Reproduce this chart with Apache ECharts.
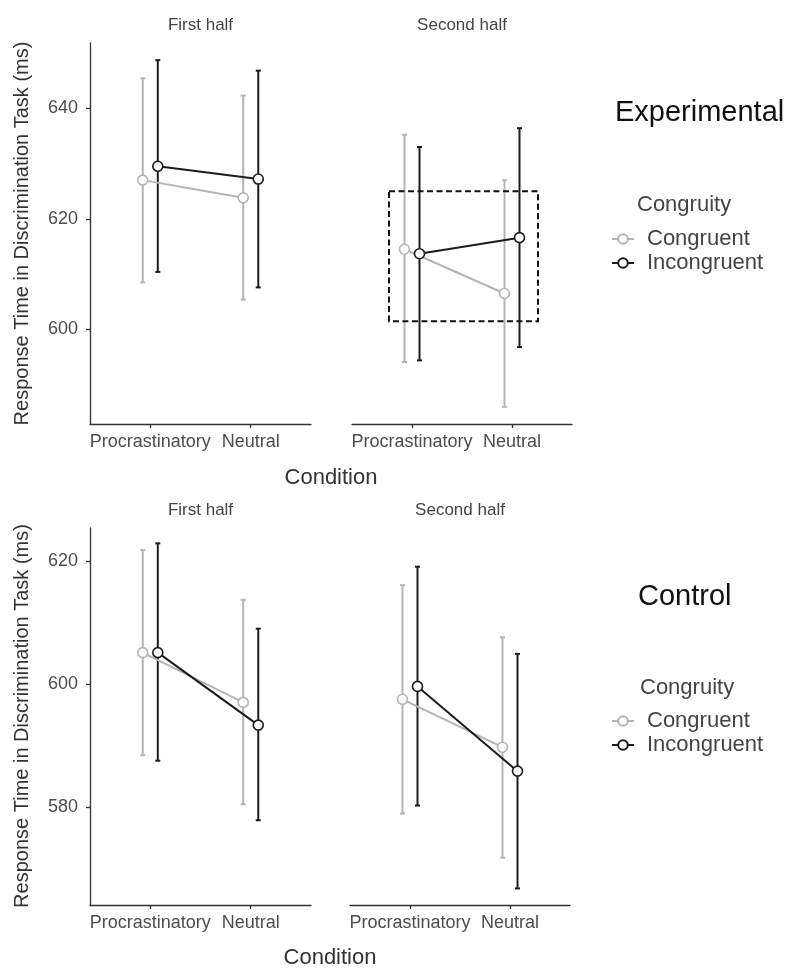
<!DOCTYPE html>
<html>
<head>
<meta charset="utf-8">
<script src="https://cdn.jsdelivr.net/npm/echarts@6/dist/echarts.min.js"></script>
<style>html,body{margin:0;padding:0;background:#fff}#c{width:787px;height:969px}</style>
</head>
<body>
<div id="c"></div>
<script>
// ---------- data ----------
const conditions = ['Procrastinatory', 'Neutral'];
const groups = ['Congruent', 'Incongruent'];
const halves = ['First half', 'Second half'];
const blocks = ['Experimental', 'Control'];
const yTicksExp = [600, 620, 640];
const yTicksCtl = [580, 600, 620];

// Experimental, first half
const expH1CongMean = [627.0, 623.8];
const expH1CongLow  = [608.5, 605.4];
const expH1CongHigh = [645.4, 642.3];
const expH1IncMean  = [629.5, 627.2];
const expH1IncLow   = [610.4, 607.6];
const expH1IncHigh  = [648.7, 646.8];
// Experimental, second half
const expH2CongMean = [614.5, 606.5];
const expH2CongLow  = [594.1, 586.0];
const expH2CongHigh = [635.2, 627.0];
const expH2IncMean  = [613.7, 616.6];
const expH2IncLow   = [594.4, 596.8];
const expH2IncHigh  = [633.0, 636.4];
// Control, first half
const ctlH1CongMean = [605.1, 597.0];
const ctlH1CongLow  = [588.4, 580.4];
const ctlH1CongHigh = [621.8, 613.7];
const ctlH1IncMean  = [605.1, 593.3];
const ctlH1IncLow   = [587.5, 577.8];
const ctlH1IncHigh  = [622.9, 609.0];
// Control, second half
const ctlH2CongMean = [597.5, 589.7];
const ctlH2CongLow  = [578.9, 571.7];
const ctlH2CongHigh = [616.1, 607.6];
const ctlH2IncMean  = [599.6, 585.8];
const ctlH2IncLow   = [580.2, 566.7];
const ctlH2IncHigh  = [619.1, 604.9];
// highlighted region (Experimental, second half)
const boxX = [0.77, 2.26];
const boxY = [601.5, 625.0];

// ---------- styling / layout ----------
const FONT = "'Liberation Sans', Arial, Helvetica, sans-serif";
const colCong = '#b4b4b4';
const colInc = '#1c1c1c';
const dodge = 0.075;

const panels = [
  { cong: [expH1CongMean, expH1CongLow, expH1CongHigh], inc: [expH1IncMean, expH1IncLow, expH1IncHigh] },
  { cong: [expH2CongMean, expH2CongLow, expH2CongHigh], inc: [expH2IncMean, expH2IncLow, expH2IncHigh] },
  { cong: [ctlH1CongMean, ctlH1CongLow, ctlH1CongHigh], inc: [ctlH1IncMean, ctlH1IncLow, ctlH1IncHigh] },
  { cong: [ctlH2CongMean, ctlH2CongLow, ctlH2CongHigh], inc: [ctlH2IncMean, ctlH2IncLow, ctlH2IncHigh] }
];

const grids = [
  { left: 90, top: 43, width: 221, height: 381 },
  { left: 352, top: 43, width: 220, height: 381 },
  { left: 90, top: 528, width: 221, height: 377 },
  { left: 350, top: 528, width: 220, height: 377 }
];
const yRanges = [[582.9, 651.8], [582.9, 651.8], [564.0, 625.4], [564.0, 625.4]];
const yTicks = [yTicksExp, yTicksExp, yTicksCtl, yTicksCtl];
const showY = [true, false, true, false];

const axisLineStyle = { color: '#333', width: 1.3 };

const xAxes = grids.map((g, i) => ({
  type: 'value', gridIndex: i, min: 0.4, max: 2.6,
  axisLine: { show: true, onZero: false, lineStyle: axisLineStyle },
  axisTick: { show: true, customValues: [1, 2], length: 4, lineStyle: axisLineStyle },
  axisLabel: { customValues: [1, 2], formatter: v => conditions[Math.round(v) - 1] || '',
    fontSize: 18, color: '#4d4d4d', fontFamily: FONT, margin: 9 },
  splitLine: { show: false }
}));
const yAxes = grids.map((g, i) => ({
  type: 'value', gridIndex: i, min: yRanges[i][0], max: yRanges[i][1],
  axisLine: { show: showY[i], onZero: false, lineStyle: axisLineStyle },
  axisTick: { show: showY[i], customValues: yTicks[i], length: 4, lineStyle: axisLineStyle },
  axisLabel: { show: showY[i], customValues: yTicks[i], fontSize: 18, color: '#4d4d4d', fontFamily: FONT, margin: 12 },
  splitLine: { show: false }
}));

function errorSeries(i, arr, off, color) {
  const data = conditions.map((c, k) => [k + 1 + off, arr[1][k], arr[2][k]]);
  return {
    type: 'custom', xAxisIndex: i, yAxisIndex: i, silent: true, z: 1,
    data: data,
    encode: { x: 0, y: [1, 2] },
    renderItem: function (params, api) {
      const x = api.value(0);
      const p1 = api.coord([x, api.value(1)]);
      const p2 = api.coord([x, api.value(2)]);
      const st = { stroke: color, lineWidth: 2 };
      const w = 2.5;
      return {
        type: 'group',
        children: [
          { type: 'line', shape: { x1: p1[0], y1: p1[1], x2: p2[0], y2: p2[1] }, style: st },
          { type: 'line', shape: { x1: p1[0] - w, y1: p1[1], x2: p1[0] + w, y2: p1[1] }, style: st },
          { type: 'line', shape: { x1: p2[0] - w, y1: p2[1], x2: p2[0] + w, y2: p2[1] }, style: st }
        ]
      };
    }
  };
}
function lineSeries(i, name, arr, off, color) {
  return {
    type: 'line', name: name, xAxisIndex: i, yAxisIndex: i, z: 3,
    data: conditions.map((c, k) => [k + 1 + off, arr[0][k]]),
    symbol: 'circle', symbolSize: 10, showSymbol: true,
    lineStyle: { color: color, width: 2 },
    itemStyle: { color: '#fff', borderColor: color, borderWidth: 1.6 },
    emphasis: { disabled: true }, animation: false
  };
}

const series = [];
panels.forEach((p, i) => {
  series.push(errorSeries(i, p.cong, -dodge, colCong));
  series.push(errorSeries(i, p.inc, dodge, colInc));
});
panels.forEach((p, i) => {
  series.push(lineSeries(i, groups[0], p.cong, -dodge, colCong));
  series.push(lineSeries(i, groups[1], p.inc, dodge, colInc));
});
series.push({
  type: 'custom', xAxisIndex: 1, yAxisIndex: 1, silent: true, z: 5,
  data: [[boxX[0], boxX[1], boxY[0], boxY[1]]],
  encode: { x: [0, 1], y: [2, 3] },
  renderItem: function (params, api) {
    const a = api.coord([api.value(0), api.value(3)]);
    const b = api.coord([api.value(1), api.value(2)]);
    return {
      type: 'rect',
      shape: { x: a[0], y: a[1], width: b[0] - a[0], height: b[1] - a[1] },
      style: { fill: 'none', stroke: '#111', lineWidth: 2, lineDash: [6, 3.5] }
    };
  }
});

function txt(x, y, s, size, color, align, rot) {
  return {
    type: 'text', x: x, y: y, rotation: rot || 0, silent: true,
    style: { text: s, fontSize: size, fontFamily: FONT, fill: color,
      textAlign: align || 'center', textVerticalAlign: 'middle' }
  };
}
const yTitle = 'Response Time in Discrimination Task (ms)';
const graphics = [
  txt(200.5, 25, halves[0], 17, '#444'),
  txt(462, 25, halves[1], 17, '#444'),
  txt(200.5, 510, halves[0], 17, '#444'),
  txt(460, 510, halves[1], 17, '#444'),
  txt(22, 233.5, yTitle, 20, '#333', 'center', Math.PI / 2),
  txt(22, 716, yTitle, 20, '#333', 'center', Math.PI / 2),
  txt(331, 478, 'Condition', 22, '#333'),
  txt(330, 958, 'Condition', 22, '#333'),
  txt(615, 113, blocks[0], 29, '#111', 'left'),
  txt(638, 597, blocks[1], 29, '#111', 'left'),
  txt(637, 205, 'Congruity', 22, '#444', 'left'),
  txt(640, 688, 'Congruity', 22, '#444', 'left')
];

function legend(top) {
  return {
    data: groups, orient: 'vertical', left: 606, top: top,
    itemWidth: 22, itemHeight: 12, itemGap: 2, selectedMode: false,
    textStyle: { fontSize: 22, fontFamily: FONT, color: '#444', lineHeight: 22, padding: [0, 0, 0, 8] }
  };
}

const chart = echarts.init(document.getElementById('c'), null, { renderer: 'canvas' });
chart.setOption({
  animation: false,
  backgroundColor: '#fff',
  grid: grids,
  xAxis: xAxes,
  yAxis: yAxes,
  legend: [legend(223), legend(705)],
  series: series,
  graphic: graphics
});
</script>
</body>
</html>
